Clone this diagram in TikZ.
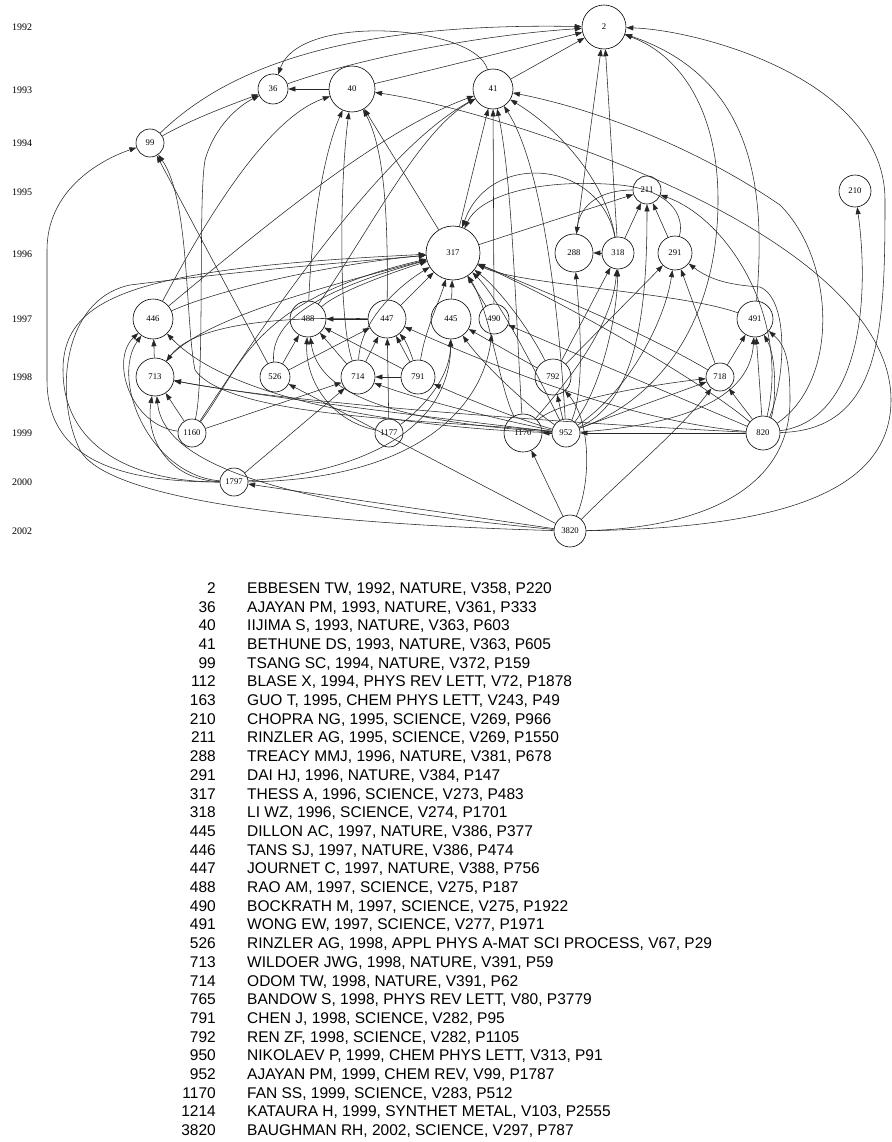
\documentclass[tikz,border=0pt]{standalone}
\usepackage{fontspec}
\setmainfont{Liberation Serif}
\newfontfamily\legfont{Liberation Sans}
\usetikzlibrary{arrows.meta}
\begin{document}
\begin{tikzpicture}[x=1pt,y=-1pt,
  pap/.style={draw, circle, inner sep=0pt, line width=0.6pt, font=\fontsize{8.7}{9}\selectfont},
  cite/.style={line width=0.55pt, draw=black!85, -{Triangle[length=7pt,width=5pt]}},
  yr/.style={font=\fontsize{10}{10}\selectfont, anchor=west, inner sep=0pt},
  lnum/.style={font=\legfont\fontsize{15.5}{18}\selectfont, anchor=base east, inner sep=0pt},
  ltxt/.style={font=\legfont\fontsize{15.5}{18}\selectfont, anchor=base west, inner sep=0pt}]
\fill[white] (0,0) rectangle (891,1142);
\path[use as bounding box] (0,0) rectangle (891,1142);

% year labels
\node[yr] (y1992) at (12,27) {1992};
\node[yr] (y1993) at (12,90) {1993};
\node[yr] (y1994) at (12,143) {1994};
\node[yr] (y1995) at (12,192) {1995};
\node[yr] (y1996) at (12,254) {1996};
\node[yr] (y1997) at (12,319) {1997};
\node[yr] (y1998) at (12,377) {1998};
\node[yr] (y1999) at (12,433) {1999};
\node[yr] (y2000) at (12,482) {2000};
\node[yr] (y2002) at (12,531) {2002};

% papers
\node[pap, minimum size=44pt] (n2) at (604,27) {2};
\node[pap, minimum size=30pt] (n36) at (273,89) {36};
\node[pap, minimum size=46pt] (n40) at (352,89) {40};
\node[pap, minimum size=40pt] (n41) at (493,89) {41};
\node[pap, minimum size=28pt] (n99) at (150,143) {99};
\node[pap, minimum size=28pt] (n211) at (647,190) {211};
\node[pap, minimum size=32pt] (n210) at (855,191) {210};
\node[pap, minimum size=54pt] (n317) at (453,253) {317};
\node[pap, minimum size=38pt] (n288) at (574,253) {288};
\node[pap, minimum size=32pt] (n318) at (618,253) {318};
\node[pap, minimum size=34pt] (n291) at (675,253) {291};
\node[pap, minimum size=40pt] (n446) at (153,319) {446};
\node[pap, minimum size=36pt] (n488) at (308,319) {488};
\node[pap, minimum size=38pt] (n447) at (387,319) {447};
\node[pap, minimum size=40pt] (n445) at (451,319) {445};
\node[pap, minimum size=30pt] (n490) at (494,319) {490};
\node[pap, minimum size=36pt] (n491) at (755,319) {491};
\node[pap, minimum size=38pt] (n713) at (155,377) {713};
\node[pap, minimum size=30pt] (n526) at (275,377) {526};
\node[pap, minimum size=34pt] (n714) at (358,377) {714};
\node[pap, minimum size=34pt] (n791) at (418,377) {791};
\node[pap, minimum size=36pt] (n792) at (553,377) {792};
\node[pap, minimum size=28pt] (n718) at (720,377) {718};
\node[pap, minimum size=28pt] (n1160) at (192,433) {1160};
\node[pap, minimum size=28pt] (n1177) at (389,433) {1177};
\node[pap, minimum size=38pt] (n1170) at (523,433) {1170};
\node[pap, minimum size=28pt] (n952) at (566,433) {952};
\node[pap, minimum size=34pt] (n820) at (763,433) {820};
\node[pap, minimum size=28pt] (n1797) at (234,482) {1797};
\node[pap, minimum size=32pt] (n3820) at (570,531) {3820};

% ---- edges into 2 and 36
\draw[cite] (n36) .. controls (360,58) and (480,35) .. (n2);
\draw[cite] (n40) .. controls (440,68) and (520,48) .. (n2);
\draw[cite] (n99) .. controls (220,75) and (330,22) .. (n2);
\draw[cite] (n41) -- (n2);
\draw[cite] (n41) .. controls (475,25) and (300,12) .. (n36);
\draw[cite] (n40) -- (n36);
\draw[cite] (n99) .. controls (190,120) and (230,105) .. (n36);
\draw[cite] (n288) -- (n2);
\draw[cite] (n318) -- (n2);
\draw[cite] (n820) .. controls (882,430) and (885,330) .. (885,200) .. controls (885,80) and (700,30) .. (n2);
\draw[cite] (n491) .. controls (765,200) and (760,80) .. (n2);
\draw[cite] (n952) .. controls (660,400) and (718,320) .. (718,200) .. controls (718,110) and (680,55) .. (n2);
\draw[cite] (n1160) .. controls (205,380) and (198,200) .. (205,160) .. controls (215,125) and (240,105) .. (n36);

% ---- 40
\draw[cite] (n446) .. controls (190,250) and (260,120) .. (n40);
\draw[cite] (n488) .. controls (312,220) and (325,150) .. (n40);
\draw[cite] (n714) .. controls (338,320) and (340,180) .. (n40);
\draw[cite] (n447) .. controls (388,220) and (385,150) .. (n40);
\draw[cite] (n317) -- (n40);
\draw[cite] (n3820) .. controls (760,528) and (891,500) .. (891,400) .. controls (891,320) and (800,250) .. (700,200) .. controls (600,150) and (460,105) .. (n40);

% ---- 41
\draw[cite] (n446) .. controls (260,230) and (380,130) .. (n41);
\draw[cite] (n1160) .. controls (260,330) and (380,150) .. (n41);
\draw[cite] (n488) .. controls (370,230) and (420,130) .. (n41);
\draw[cite] (n317) -- (n41);
\draw[cite] (n490) -- (n41);
\draw[cite] (n1170) .. controls (515,300) and (512,180) .. (n41);
\draw[cite] (n952) .. controls (560,330) and (545,170) .. (n41);
\draw[cite] (n318) .. controls (605,180) and (560,130) .. (n41);
\draw[cite] (n820) .. controls (840,380) and (835,260) .. (780,205) .. controls (700,150) and (600,110) .. (n41);

% ---- 99
\draw[cite] (n526) -- (n99);
\draw[cite] (n1797) .. controls (120,482) and (47,460) .. (47,380) -- (47,250) .. controls (47,190) and (100,160) .. (n99);
\draw[cite] (n952) .. controls (450,420) and (230,420) .. (195,370) .. controls (185,320) and (190,200) .. (n99);

% ---- 211, 288, 318, 291
\draw[cite] (n317) -- (n211);
\draw[cite] (n318) -- (n211);
\draw[cite] (n291) -- (n211);
\draw[cite] (n291) .. controls (685,215) and (670,190) .. (620,185) .. controls (540,178) and (480,195) .. (n317);
\draw[cite] (n952) .. controls (640,400) and (647,300) .. (n211);
\draw[cite] (n820) .. controls (790,320) and (730,220) .. (n211);
\draw[cite] (n211) .. controls (600,190) and (580,205) .. (n288);
\draw[cite] (n318) .. controls (600,160) and (490,150) .. (n317);
\draw[cite] (n318) -- (n288);
\draw[cite] (n952) .. controls (585,390) and (580,320) .. (n288);
\draw[cite] (n792) -- (n318);
\draw[cite] (n952) .. controls (600,390) and (617,320) .. (n318);
\draw[cite] (n1170) .. controls (560,390) and (612,330) .. (n318);
\draw[cite] (n792) -- (n291);
\draw[cite] (n952) .. controls (630,390) and (665,320) .. (n291);
\draw[cite] (n718) -- (n291);
\draw[cite] (n820) .. controls (785,380) and (790,300) .. (760,287) .. controls (730,285) and (710,280) .. (n291);

% ---- 491, 718, 210
\draw[cite] (n718) -- (n491);
\draw[cite] (n952) .. controls (680,425) and (750,400) .. (n491);
\draw[cite] (n820) -- (n491);
\draw[cite] (n820) .. controls (775,410) and (778,360) .. (n491);
\draw[cite] (n3820) .. controls (700,528) and (790,490) .. (790,400) .. controls (790,360) and (785,345) .. (n491);
\draw[cite] (n952) -- (n718);
\draw[cite] (n1170) .. controls (560,400) and (650,385) .. (n718);
\draw[cite] (n820) -- (n718);
\draw[cite] (n3820) .. controls (620,480) and (680,430) .. (n718);
\draw[cite] (n820) .. controls (860,420) and (870,300) .. (n210);

% ---- 317
\draw[cite] (n446) .. controls (230,285) and (350,262) .. (n317);
\draw[cite] (n713) .. controls (195,320) and (330,285) .. (n317);
\draw[cite] (n1797) .. controls (130,482) and (63,445) .. (63,370) .. controls (63,295) and (140,268) .. (n317);
\draw[cite] (n3820) .. controls (350,525) and (110,505) .. (80,450) .. controls (55,400) and (60,300) .. (130,285) .. controls (250,270) and (350,262) .. (n317);
\draw[cite] (n488) .. controls (340,290) and (400,270) .. (n317);
\draw[cite] (n526) .. controls (270,320) and (320,290) .. (n317);
\draw[cite] (n1160) .. controls (240,370) and (250,300) .. (n317);
\draw[cite] (n714) .. controls (360,320) and (400,285) .. (n317);
\draw[cite] (n447) -- (n317);
\draw[cite] (n791) .. controls (425,330) and (440,300) .. (n317);
\draw[cite] (n445) -- (n317);
\draw[cite] (n490) -- (n317);
\draw[cite] (n792) .. controls (530,330) and (500,290) .. (n317);
\draw[cite] (n491) .. controls (680,292) and (520,285) .. (n317);
\draw[cite] (n718) .. controls (640,330) and (540,290) .. (n317);
\draw[cite] (n952) .. controls (540,380) and (500,300) .. (n317);
\draw[cite] (n1170) .. controls (500,390) and (490,310) .. (n317);
\draw[cite] (n820) .. controls (700,380) and (560,300) .. (n317);

% ---- 445, 490
\draw[cite] (n792) -- (n445);
\draw[cite] (n952) .. controls (520,400) and (480,360) .. (n445);
\draw[cite] (n1177) .. controls (420,410) and (450,380) .. (n445);
\draw[cite] (n1797) .. controls (380,470) and (450,420) .. (n445);
\draw[cite] (n820) -- (n490);
\draw[cite] (n1797) .. controls (400,480) and (480,420) .. (n490);

% ---- 447, 488
\draw[cite] (n526) -- (n447);
\draw[cite] (n714) -- (n447);
\draw[cite] (n1177) -- (n447);
\draw[cite] (n791) -- (n447);
\draw[cite] (n791) .. controls (410,350) and (405,340) .. (n447);
\draw[cite] (n820) .. controls (620,420) and (480,360) .. (n447);
\draw[cite] (n447) -- (n488);
\draw[cite] (n526) -- (n488);
\draw[cite] (n1177) .. controls (330,420) and (305,380) .. (n488);
\draw[cite] (n952) .. controls (450,425) and (320,410) .. (n488);
\draw[cite] (n714) -- (n488);
\draw[cite] (n791) -- (n488);

% ---- 446, 713
\draw[cite] (n713) -- (n446);
\draw[cite] (n1160) .. controls (130,425) and (110,360) .. (n446);
\draw[cite] (n1797) .. controls (150,475) and (110,380) .. (n446);
\draw[cite] (n952) .. controls (450,430) and (240,410) .. (n446);
\draw[cite] (n447) .. controls (330,318) and (200,315) .. (n713);
\draw[cite] (n952) .. controls (450,420) and (250,395) .. (n713);
\draw[cite] (n820) .. controls (600,425) and (300,405) .. (n713);
\draw[cite] (n1160) -- (n713);
\draw[cite] (n1797) .. controls (170,480) and (145,440) .. (n713);
\draw[cite] (n3820) .. controls (350,510) and (165,480) .. (n713);

% ---- 714, 791, 792, 526, 1170, 1797, 952
\draw[cite] (n1160) -- (n714);
\draw[cite] (n1797) -- (n714);
\draw[cite] (n791) -- (n714);
\draw[cite] (n952) .. controls (500,420) and (420,400) .. (n714);
\draw[cite] (n952) .. controls (520,420) and (470,400) .. (n791);
\draw[cite] (n952) -- (n792);
\draw[cite] (n3820) .. controls (592,480) and (590,420) .. (n792);
\draw[cite] (n3820) -- (n526);
\draw[cite] (n952) -- (n1170);
\draw[cite] (n3820) -- (n1170);
\draw[cite] (n3820) -- (n1797);
\draw[cite] (n820) -- (n952);

% ---- legend
\node[lnum] (k1) at (216,593.3) {2};    \node[ltxt] (t1) at (247,593.3) {EBBESEN TW, 1992, NATURE, V358, P220};
\node[lnum] (k2) at (216,612.0) {36};   \node[ltxt] (t2) at (247,612.0) {AJAYAN PM, 1993, NATURE, V361, P333};
\node[lnum] (k3) at (216,630.7) {40};   \node[ltxt] (t3) at (247,630.7) {IIJIMA S, 1993, NATURE, V363, P603};
\node[lnum] (k4) at (216,649.4) {41};   \node[ltxt] (t4) at (247,649.4) {BETHUNE DS, 1993, NATURE, V363, P605};
\node[lnum] (k5) at (216,668.1) {99};   \node[ltxt] (t5) at (247,668.1) {TSANG SC, 1994, NATURE, V372, P159};
\node[lnum] (k6) at (216,686.8) {112};  \node[ltxt] (t6) at (247,686.8) {BLASE X, 1994, PHYS REV LETT, V72, P1878};
\node[lnum] (k7) at (216,705.5) {163};  \node[ltxt] (t7) at (247,705.5) {GUO T, 1995, CHEM PHYS LETT, V243, P49};
\node[lnum] (k8) at (216,724.2) {210};  \node[ltxt] (t8) at (247,724.2) {CHOPRA NG, 1995, SCIENCE, V269, P966};
\node[lnum] (k9) at (216,742.9) {211};  \node[ltxt] (t9) at (247,742.9) {RINZLER AG, 1995, SCIENCE, V269, P1550};
\node[lnum] (k10) at (216,761.6) {288}; \node[ltxt] (t10) at (247,761.6) {TREACY MMJ, 1996, NATURE, V381, P678};
\node[lnum] (k11) at (216,780.3) {291}; \node[ltxt] (t11) at (247,780.3) {DAI HJ, 1996, NATURE, V384, P147};
\node[lnum] (k12) at (216,799.0) {317}; \node[ltxt] (t12) at (247,799.0) {THESS A, 1996, SCIENCE, V273, P483};
\node[lnum] (k13) at (216,817.7) {318}; \node[ltxt] (t13) at (247,817.7) {LI WZ, 1996, SCIENCE, V274, P1701};
\node[lnum] (k14) at (216,836.4) {445}; \node[ltxt] (t14) at (247,836.4) {DILLON AC, 1997, NATURE, V386, P377};
\node[lnum] (k15) at (216,855.1) {446}; \node[ltxt] (t15) at (247,855.1) {TANS SJ, 1997, NATURE, V386, P474};
\node[lnum] (k16) at (216,873.8) {447}; \node[ltxt] (t16) at (247,873.8) {JOURNET C, 1997, NATURE, V388, P756};
\node[lnum] (k17) at (216,892.5) {488}; \node[ltxt] (t17) at (247,892.5) {RAO AM, 1997, SCIENCE, V275, P187};
\node[lnum] (k18) at (216,911.2) {490}; \node[ltxt] (t18) at (247,911.2) {BOCKRATH M, 1997, SCIENCE, V275, P1922};
\node[lnum] (k19) at (216,929.9) {491}; \node[ltxt] (t19) at (247,929.9) {WONG EW, 1997, SCIENCE, V277, P1971};
\node[lnum] (k20) at (216,948.6) {526}; \node[ltxt] (t20) at (247,948.6) {RINZLER AG, 1998, APPL PHYS A-MAT SCI PROCESS, V67, P29};
\node[lnum] (k21) at (216,967.3) {713}; \node[ltxt] (t21) at (247,967.3) {WILDOER JWG, 1998, NATURE, V391, P59};
\node[lnum] (k22) at (216,986.0) {714}; \node[ltxt] (t22) at (247,986.0) {ODOM TW, 1998, NATURE, V391, P62};
\node[lnum] (k23) at (216,1004.7) {765}; \node[ltxt] (t23) at (247,1004.7) {BANDOW S, 1998, PHYS REV LETT, V80, P3779};
\node[lnum] (k24) at (216,1023.4) {791}; \node[ltxt] (t24) at (247,1023.4) {CHEN J, 1998, SCIENCE, V282, P95};
\node[lnum] (k25) at (216,1042.1) {792}; \node[ltxt] (t25) at (247,1042.1) {REN ZF, 1998, SCIENCE, V282, P1105};
\node[lnum] (k26) at (216,1060.8) {950}; \node[ltxt] (t26) at (247,1060.8) {NIKOLAEV P, 1999, CHEM PHYS LETT, V313, P91};
\node[lnum] (k27) at (216,1079.5) {952}; \node[ltxt] (t27) at (247,1079.5) {AJAYAN PM, 1999, CHEM REV, V99, P1787};
\node[lnum] (k28) at (216,1098.2) {1170}; \node[ltxt] (t28) at (247,1098.2) {FAN SS, 1999, SCIENCE, V283, P512};
\node[lnum] (k29) at (216,1116.9) {1214}; \node[ltxt] (t29) at (247,1116.9) {KATAURA H, 1999, SYNTHET METAL, V103, P2555};
\node[lnum] (k30) at (216,1135.6) {3820}; \node[ltxt] (t30) at (247,1135.6) {BAUGHMAN RH, 2002, SCIENCE, V297, P787};
\end{tikzpicture}
\end{document}
